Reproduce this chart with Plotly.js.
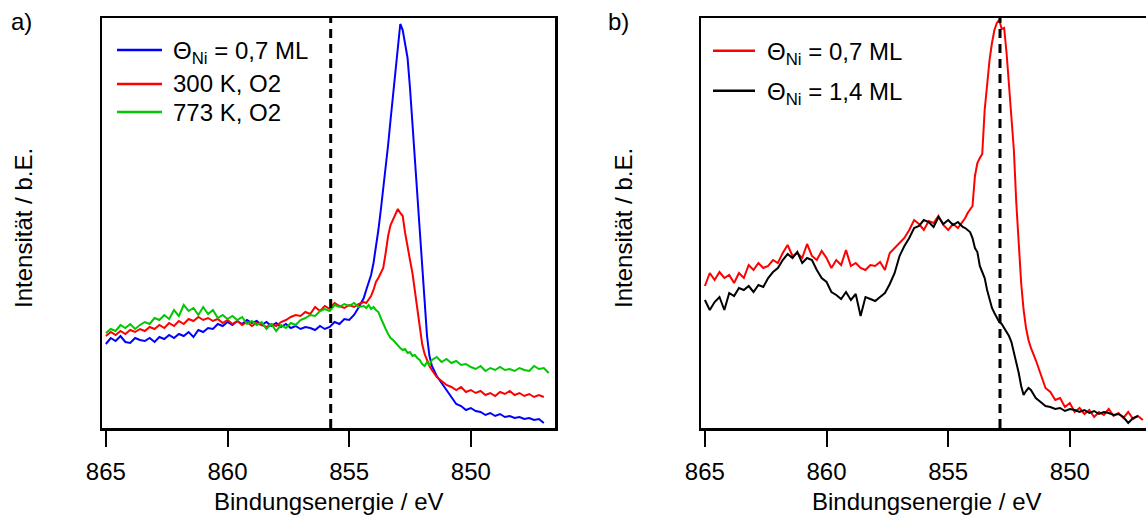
<!DOCTYPE html>
<html><head><meta charset="utf-8">
<script src="https://cdn.plot.ly/plotly-3.0.1.min.js"></script>
<style>html,body{margin:0;padding:0;overflow:hidden;background:#fff}</style>
</head><body><div id="chart" style="width:1160px;height:520px"></div>
<script>
// Binding energy grid (eV)
const energy = [865.0,864.8,864.6,864.4,864.2,864.0,863.8,863.6,863.4,863.2,
863.0,862.8,862.6,862.4,862.2,862.0,861.8,861.6,861.4,861.2,
861.0,860.8,860.6,860.4,860.2,860.0,859.8,859.6,859.4,859.2,
859.0,858.8,858.6,858.4,858.2,858.0,857.8,857.6,857.4,857.2,
857.0,856.8,856.6,856.4,856.2,856.0,855.8,855.6,855.4,855.2,
855.0,854.8,854.6,854.4,
854.3,854.2,854.1,854.0,853.9,853.8,853.7,853.6,853.5,853.4,
853.3,853.2,853.1,853.0,852.9,852.8,852.7,852.6,852.5,852.4,
852.3,852.2,852.1,852.0,851.9,851.8,851.7,
851.6,851.4,851.2,851.0,850.8,850.6,850.4,850.2,850.0,849.8,
849.6,849.4,849.2,849.0,848.8,848.6,848.4,848.2,848.0,847.8,
847.6,847.4,847.2,847.0,846.8];

// Panel a) intensities (arb. units)
const a_Ni07 = [84,90,87,92,86,85,90,88,87,90, 86,91,89,93,90,94,92,96,91,98,
96,100,99,104,102,106,103,107,104,108, 105,107,103,106,102,105,101,104,100,102,
99,101,100,98,102,99,101,106,104,109, 108,113,121,130,
138,145,153,165,180,198,218,238,260,283, 308,332,358,385,404,398,385,370,340,305,
268,232,196,160,122,92,72,
62,52,45,38,30,24,22,18,20,17, 16,13,15,12,14,11,12,10,11,9, 10,8,9,5,null];
const a_300K = [92,96,93,97,94,98,96,99,97,101, 99,103,100,105,102,107,104,109,107,111,
108,110,107,109,105,108,104,107,103,106, 102,105,103,101,104,102,106,108,111,113,
112,116,114,121,117,122,119,125,122,120, 123,121,124,126,
125,129,132,138,146,150,155,160,175,192, 203,208,214,219,215,212,195,180,168,155,
138,120,106,84,74,68,62,
58,51,47,43,41,38,41,36,38,35, 37,33,35,32,36,34,37,33,35,32, 34,31,33,31,null];
const a_773K = [95,99,97,103,100,104,99,103,106,104, 110,108,113,109,118,112,123,117,120,113,
121,114,118,110,113,109,112,108,111,104, 107,103,106,99,104,97,103,100,105,103,
108,110,113,112,117,119,117,123,121,124, 122,125,121,122,
120,123,119,121,118,116,110,104,99,94, 90,88,85,83,80,78,79,75,76,72,
73,70,68,64,62,66,63,
68,71,66,69,65,67,63,64,61,59, 62,57,60,58,61,58,59,57,60,58, 57,62,59,60,55];

// Panel b) intensities (arb. units)
const b_Ni07 = [142,155,148,156,150,153,145,155,150,163, 158,165,160,162,168,165,175,183,172,175,
170,184,172,168,177,170,160,168,163,178, 162,165,160,158,163,162,166,158,175,180,
185,190,198,208,204,198,207,205,212,203, 198,204,200,206,
210,215,218,222,252,265,270,274,318,345, 368,385,398,405,408,399,400,375,345,315,
278,225,180,145,118,100,88,
80,68,55,40,36,28,30,21,25,16, 20,14,18,11,16,13,19,12,15,10, 16,9,12,8,null];
const b_Ni14 = [128,118,126,131,118,135,132,140,138,142, 136,143,141,150,156,160,168,174,170,176,
165,170,168,158,150,146,136,133,129,136, 128,134,112,131,129,127,131,135,144,155,
172,182,190,200,202,208,206,201,211,204, 208,203,206,201,
200,198,196,190,180,176,162,156,150,138, 128,120,115,110,106,104,100,95,92,86,
76,65,55,42,33,37,40,
38,30,26,22,21,19,20,17,19,18, 16,18,15,17,14,16,15,13,14,11, 5,10,12,null,null];

const xTicks = [865, 860, 855, 850];
const refLines = [855.76, 852.87];   // dashed reference energies (a, b)
const legendA = ['Θ<sub>Ni</sub> = 0,7 ML', '300 K, O2', '773 K, O2'];
const legendB = ['Θ<sub>Ni</sub> = 0,7 ML', 'Θ<sub>Ni</sub> = 1,4 ML'];
const colorsA = ['#0000ff', '#ff0000', '#00c800'];
const colorsB = ['#ff0000', '#000000'];

const W = 1160, H = 520;
const fx = p => p / W, fy = p => 1 - p / H;

const seriesA = [a_Ni07, a_300K, a_773K];
const seriesB = [b_Ni07, b_Ni14];
const traces = [];
seriesA.forEach((s, i) => traces.push({x: energy, y: s, type: 'scatter', mode: 'lines', name: legendA[i],
  xaxis: 'x', yaxis: 'y', line: {color: colorsA[i], width: 2}}));
seriesB.forEach((s, i) => traces.push({x: energy, y: s, type: 'scatter', mode: 'lines', name: legendB[i],
  xaxis: 'x2', yaxis: 'y2', line: {color: colorsB[i], width: 2}}));

const axBase = {showline: true, linecolor: '#000', linewidth: 2.5, mirror: true, showgrid: false, zeroline: false};
const xBase = Object.assign({}, axBase, {range: [865.16, 846.54], ticks: 'outside', ticklen: 16, tickwidth: 2,
  tickcolor: '#000', tickvals: xTicks, ticktext: xTicks.map(String), tickfont: {size: 24}, ticklabelstandoff: 5});
const yBase = Object.assign({}, axBase, {range: [0, 410], showticklabels: false, ticks: ''});

const shapes = [], annotations = [];
shapes.push({type: 'line', xref: 'x', yref: 'y domain', x0: refLines[0], x1: refLines[0], y0: 0, y1: 1,
  line: {color: '#000', width: 3, dash: '9px,6px'}});
shapes.push({type: 'line', xref: 'x2', yref: 'y2 domain', x0: refLines[1], x1: refLines[1], y0: 0, y1: 1,
  line: {color: '#000', width: 3, dash: '9px,6px'}});

const ann = (text, x, y, extra) => Object.assign({text: text, xref: 'paper', yref: 'paper', x: fx(x), y: fy(y),
  xanchor: 'center', yanchor: 'middle', showarrow: false, font: {size: 24}}, extra || {});

// legends
const legRowsA = [50, 84, 112], legRowsB = [50.7, 90.7];
legendA.forEach((t, i) => {
  shapes.push({type: 'line', xref: 'paper', yref: 'paper', x0: fx(117), x1: fx(162), y0: fy(legRowsA[i]), y1: fy(legRowsA[i]),
    line: {color: colorsA[i], width: 2.5}});
  annotations.push(ann(t, 171, legRowsA[i] + (i === 0 ? 3 : 0), {xanchor: 'left'}));
});
legendB.forEach((t, i) => {
  shapes.push({type: 'line', xref: 'paper', yref: 'paper', x0: fx(713), x1: fx(755), y0: fy(legRowsB[i]), y1: fy(legRowsB[i]),
    line: {color: colorsB[i], width: 2.5}});
  annotations.push(ann(t, 765, legRowsB[i] + 3, {xanchor: 'left'}));
});
// panel labels & axis titles
annotations.push(ann('a)', 21, 22));
annotations.push(ann('b)', 618, 22));
annotations.push(ann('Bindungsenergie / eV', 328.5, 501));
annotations.push(ann('Bindungsenergie / eV', 927, 501));
annotations.push(ann('Intensität / b.E.', 23, 228, {textangle: -90}));
annotations.push(ann('Intensität / b.E.', 623, 228, {textangle: -90}));

const layout = {
  width: W, height: H, margin: {l: 0, r: 0, t: 0, b: 0},
  paper_bgcolor: '#fff', plot_bgcolor: '#fff', showlegend: false,
  font: {family: 'Liberation Sans, Arial, sans-serif', size: 24, color: '#000'},
  xaxis: Object.assign({}, xBase, {domain: [fx(102), fx(555)], anchor: 'y'}),
  yaxis: Object.assign({}, yBase, {domain: [fy(428), fy(18)], anchor: 'x'}),
  xaxis2: Object.assign({}, xBase, {domain: [fx(701), fx(1154)], anchor: 'y2'}),
  yaxis2: Object.assign({}, yBase, {domain: [fy(428), fy(18)], anchor: 'x2'}),
  shapes: shapes, annotations: annotations
};
Plotly.newPlot('chart', traces, layout, {displayModeBar: false, staticPlot: true});
</script></body></html>
